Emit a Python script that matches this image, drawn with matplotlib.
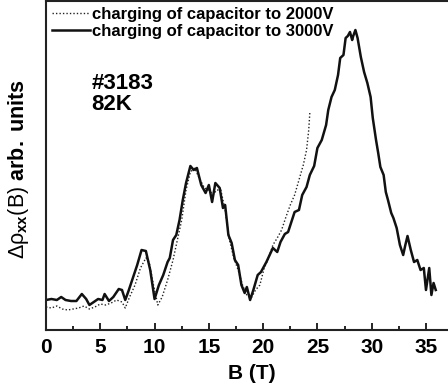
import numpy as np
import matplotlib
matplotlib.use("Agg")
import matplotlib.pyplot as plt

plt.rcParams['font.family'] = ['Liberation Sans', 'DejaVu Sans']
plt.rcParams['mathtext.fontset'] = 'custom'
plt.rcParams['mathtext.rm'] = 'Liberation Sans'
plt.rcParams['mathtext.it'] = 'Liberation Sans'
plt.rcParams['mathtext.bf'] = 'Liberation Sans:bold'

# 3000V curve: B (T), signal (arb.)
B_3000 = [0.0, 0.5, 1.0, 1.4, 1.8, 2.3, 2.8, 3.3, 3.7, 4.0, 4.4, 4.8, 5.2, 5.4, 5.8,
          6.2, 6.7, 7.0, 7.3, 7.6, 8.0, 8.4, 8.8, 9.2, 9.6, 10.0, 10.4, 10.8, 11.2,
          11.4, 11.7, 12.0, 12.3, 12.6, 12.9, 13.3, 13.6, 13.9, 14.3, 14.7, 15.0,
          15.3, 15.6, 16.0, 16.3, 16.5, 16.8, 17.1, 17.4, 17.7, 18.0, 18.3, 18.5,
          18.8, 19.1, 19.5, 19.8, 20.3, 20.6, 20.9, 21.3, 21.6, 22.0, 22.3, 22.6,
          22.9, 23.3, 23.6, 24.0, 24.3, 24.7, 25.0, 25.4, 25.8, 26.0, 26.3, 26.6,
          26.9, 27.1, 27.4, 27.6, 27.8, 28.0, 28.2, 28.3, 28.5, 28.7, 29.0, 29.3,
          29.6, 29.9, 30.1, 30.4, 30.6, 30.8, 31.1, 31.3, 31.5, 31.8, 32.0, 32.3,
          32.6, 32.9, 33.1, 33.3, 33.6, 33.9, 34.2, 34.5, 34.8, 35.0, 35.3, 35.5,
          35.7, 35.9]
y_3000 = [3.0, 3.1, 3.0, 3.3, 3.0, 2.9, 2.9, 3.6, 3.1, 2.5, 2.8, 3.1, 3.0, 3.6, 2.9,
          3.3, 4.1, 4.0, 3.0, 3.9, 5.2, 6.5, 8.0, 7.9, 6.0, 3.1, 4.5, 5.5, 6.8,
          7.2, 9.0, 9.5, 11.0, 13.0, 14.7, 16.4, 16.0, 16.2, 14.5, 13.7, 14.5,
          12.8, 14.7, 14.2, 12.2, 12.5, 9.5, 8.7, 7.0, 6.5, 4.5, 3.7, 4.3,
          3.0, 4.0, 5.5, 5.8, 6.8, 7.5, 8.2, 7.8, 8.8, 9.6, 9.8, 10.8,
          11.8, 12.0, 13.5, 14.3, 15.5, 16.4, 18.2, 19.0, 20.5, 22.0, 23.3, 24.0,
          25.5, 27.2, 27.5, 29.2, 29.4, 29.8, 29.0, 29.4, 30.0, 29.2, 27.3, 25.8,
          24.7, 23.3, 21.2, 19.0, 17.7, 16.3, 15.5, 13.8, 13.0, 11.7, 11.2, 10.2,
          8.5, 7.5, 8.5, 9.4, 8.0, 6.8, 7.0, 6.0, 6.2, 4.0, 6.2, 3.5,
          4.7, 4.0]

# 2000V curve
B_2000 = [0.0, 0.5, 1.0, 1.5, 2.0, 2.5, 3.0, 3.5, 4.0, 4.5, 5.0, 5.5, 6.0, 6.5, 7.0,
          7.3, 7.7, 8.2, 8.7, 9.2, 9.5, 9.9, 10.3, 10.7, 11.2, 11.7, 12.1, 12.5,
          12.9, 13.3, 13.7, 14.1, 14.6, 15.0, 15.4, 15.7, 16.1, 16.5, 16.9, 17.3,
          17.7, 18.1, 18.5, 18.9, 19.3, 19.7, 20.1, 20.5, 20.9, 21.3, 21.7, 22.1,
          22.5, 22.9, 23.3, 23.7, 24.0, 24.2, 24.3]
y_2000 = [2.3, 2.2, 2.4, 2.1, 2.0, 2.1, 2.2, 2.4, 2.1, 2.3, 2.6, 2.5, 2.7, 3.0, 2.8,
          2.2, 3.3, 4.5, 6.2, 7.2, 6.8, 4.5, 2.5, 3.3, 5.0, 7.0, 9.0, 11.0,
          14.0, 15.8, 16.2, 15.2, 14.2, 14.0, 13.5, 14.0, 14.0, 12.0, 9.0, 7.2,
          6.0, 4.5, 3.5, 3.2, 4.0, 4.5, 6.2, 7.2, 8.5, 9.2, 10.0, 11.3,
          12.5, 13.5, 15.0, 16.5, 18.0, 20.0, 21.7]

fig = plt.figure(figsize=(4.48, 3.92), dpi=100)
ax = fig.add_axes([46/448, 62/392, 412/448, 329/392])

ax.plot(B_2000, y_2000, color='#222222', lw=1.0, ls=(0, (1, 1.5)),
        label='charging of capacitor to 2000V')
ax.plot(B_3000, y_3000, color='#111111', lw=1.8,
        label='charging of capacitor to 3000V')

ax.set_xlim(0, 37.95)
ax.set_ylim(0, 32.9)
ax.set_xticks([0, 5, 10, 15, 20, 25, 30, 35])
ax.set_xticks(np.arange(2.5, 37, 5), minor=True)
ax.set_yticks([])
ax.tick_params(axis='x', which='major', direction='in', length=5, width=1.2,
               labelsize=15, pad=6)
ax.tick_params(axis='x', which='minor', direction='in', length=3, width=1.2)
for lab in ax.get_xticklabels():
    lab.set_fontweight('bold')
for s in ax.spines.values():
    s.set_linewidth(1.5)
    s.set_color('#222222')

ax.set_xlabel('B (T)', fontsize=15, fontweight='bold', labelpad=5)
ax.set_ylabel(r'$\Delta\rho_{\mathbf{xx}}\mathrm{(B)}$ $\mathbf{arb.\ units}$',
              fontsize=15.5)
ax.yaxis.set_label_coords(-15/412, 0.49)

ax.text(4.2, 23.6, '#3183\n82K', fontsize=16, fontweight='bold',
        linespacing=0.95, va='center', ha='left')

ax.legend(loc='upper left', frameon=False, prop={'weight': 'bold', 'size': 12},
          handlelength=2.3, handletextpad=0.12, borderaxespad=0.1,
          labelspacing=0.12, borderpad=0.25)

fig.savefig('out.png', dpi=100)
